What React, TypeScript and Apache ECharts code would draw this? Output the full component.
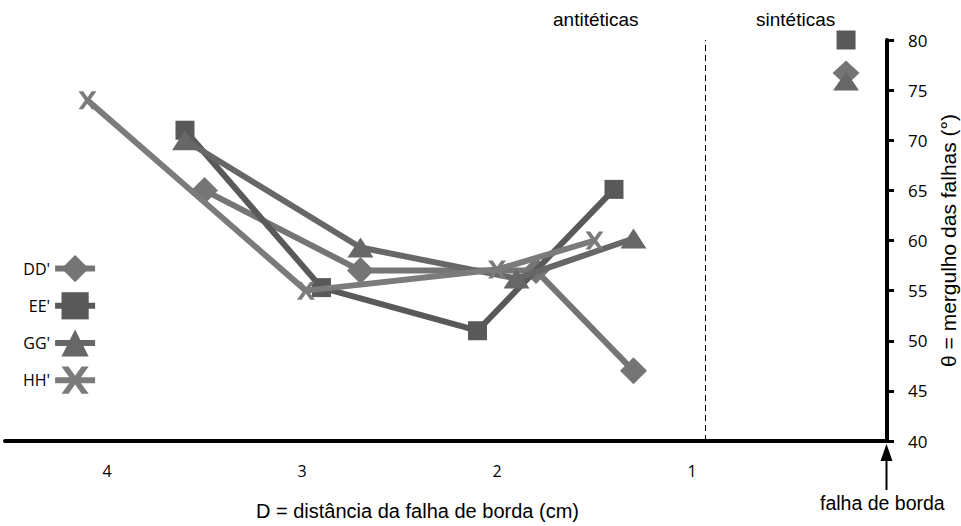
import React, { useEffect, useRef } from "react";
import * as echarts from "echarts";

const seriesNames = ["DD'", "EE'", "GG'", "HH'"];
const ddData = [[3.5, 65], [2.7, 57], [1.8, 57], [1.3, 47]];
const eeData = [[3.6, 71], [2.9, 55.3], [2.1, 51], [1.4, 65.1]];
const ggData = [[3.6, 70], [2.7, 59.3], [1.9, 56.2], [1.3, 60.2]];
const hhData = [[4.1, 74], [2.98, 55], [2.0, 57.1], [1.5, 60]];
const ddSyn = [[0.21, 76.7]];
const eeSyn = [[0.21, 80]];
const ggSyn = [[0.21, 75.9]];
const boundaryX = 0.93;
const xTicks = [1, 2, 3, 4];
const yMin = 40;
const yMax = 80;
const yStep = 5;

const colors = { dd: "#757575", ee: "#595959", gg: "#676767", hh: "#7b7b7b" };
const xPath = "path://M0,0 L2.6,0 L5,3.4 L7.4,0 L10,0 L6.4,5 L10,10 L7.4,10 L5,6.6 L2.6,10 L0,10 L3.6,5 Z";

export default function App() {
  const ref = useRef<HTMLDivElement>(null);
  useEffect(() => {
    const chart = echarts.init(ref.current!, null, { renderer: "svg" });
    const lineBase = (name: string, data: number[][], color: string, symbol: string, size: any, z: number) => ({
      name,
      type: "line",
      data,
      symbol,
      symbolSize: size,
      z,
      lineStyle: { color, width: 6 },
      itemStyle: { color },
      emphasis: { disabled: true },
    });
    const scatterBase = (name: string, data: number[][], color: string, symbol: string, size: any) => ({
      name,
      type: "scatter",
      data,
      symbol,
      symbolSize: size,
      clip: false,
      itemStyle: { color, opacity: 1 },
      emphasis: { disabled: true },
    });
    chart.setOption({
      animation: false,
      grid: { left: 5, right: 74, top: 40, bottom: 85, containLabel: false, outerBoundsMode: "none" },
      xAxis: {
        type: "value",
        inverse: true,
        min: 0,
        max: 4.523,
        interval: 1,
        axisLine: { show: true, onZero: false, lineStyle: { color: "#000", width: 4 } },
        axisTick: { show: false },
        splitLine: { show: false },
        axisLabel: {
          margin: 22,
          fontFamily: "Open Sans",
          fontSize: 16,
          color: "#000",
          formatter: (v: number) => (xTicks.includes(v) ? String(v) : ""),
        },
      },
      yAxis: {
        type: "value",
        position: "right",
        min: yMin,
        max: yMax,
        interval: yStep,
        axisLine: { show: true, lineStyle: { color: "#000", width: 4 } },
        axisTick: { show: true, length: 7, lineStyle: { color: "#000", width: 3 } },
        splitLine: { show: false },
        axisLabel: { margin: 21, fontFamily: "Open Sans", fontSize: 17, color: "#000" },
        name: "θ = mergulho das falhas (°)",
        nameLocation: "middle",
        nameRotate: 90,
        nameGap: 51,
        nameTextStyle: { fontFamily: "Liberation Sans", fontSize: 21, color: "#000" },
      },
      legend: {
        data: seriesNames,
        orient: "vertical",
        left: 18,
        top: 250,
        align: "right",
        itemWidth: 40,
        itemHeight: 34,
        itemGap: 10,
        textStyle: { fontFamily: "Open Sans", fontSize: 16, color: "#000" },
        lineStyle: { width: 6 },
        selectedMode: false,
      },
      series: [
        {
          ...lineBase("DD'", ddData, colors.dd, "diamond", [27, 27], 2),
          markLine: {
            silent: true,
            symbol: "none",
            label: { show: false },
            lineStyle: { color: "#000", type: [6, 4], width: 1 },
            data: [{ xAxis: boundaryX }],
          },
        },
        lineBase("EE'", eeData, colors.ee, "rect", [19, 19], 3),
        lineBase("GG'", ggData, colors.gg, "triangle", [26, 20], 4),
        lineBase("HH'", hhData, colors.hh, xPath, [18, 18], 5),
        scatterBase("DD' sintéticas", ddSyn, colors.dd, "diamond", [27, 25]),
        scatterBase("EE' sintéticas", eeSyn, colors.ee, "rect", [19, 19]),
        scatterBase("GG' sintéticas", ggSyn, colors.gg, "triangle", [26, 19]),
      ],
      graphic: [
        { type: "text", left: 553, top: 10, style: { text: "antitéticas", fontFamily: "Liberation Sans", fontSize: 19, fill: "#000" } },
        { type: "text", left: 756, top: 10, style: { text: "sintéticas", fontFamily: "Liberation Sans", fontSize: 19, fill: "#000" } },
        { type: "text", left: 256, top: 501, style: { text: "D = distância da falha de borda (cm)", fontFamily: "Liberation Sans", fontSize: 20, fill: "#000" } },
        { type: "text", left: 820, top: 493, style: { text: "falha de borda", fontFamily: "Liberation Sans", fontSize: 19.5, fill: "#000" } },
        { type: "line", shape: { x1: 886.5, y1: 490, x2: 886.5, y2: 458 }, style: { stroke: "#000", lineWidth: 2 } },
        { type: "polygon", shape: { points: [[886.5, 444], [880.5, 461], [892.5, 461]] }, style: { fill: "#000" } },
      ],
    });
    return () => chart.dispose();
  }, []);
  return <div ref={ref} style={{ position: "absolute", left: 0, top: 0, width: 961, height: 526 }} />;
}
